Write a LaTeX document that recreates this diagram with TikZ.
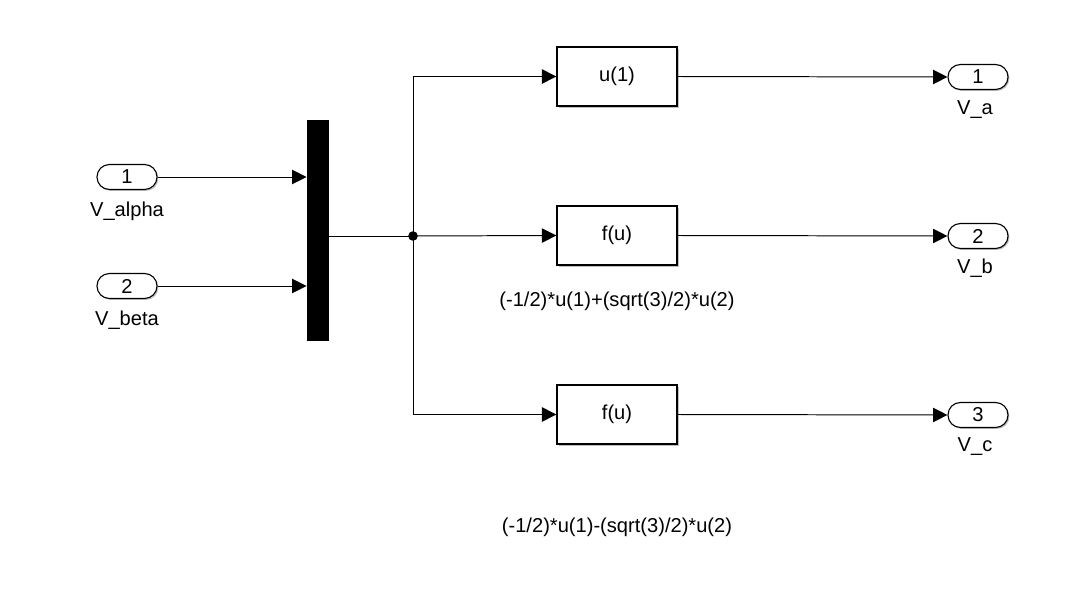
\documentclass[tikz,border=0pt]{standalone}
\usepackage{fontspec}
\setmainfont{Liberation Sans}
\usepackage{tikz}
\usetikzlibrary{arrows.meta, shadows}

\begin{document}
\begin{tikzpicture}[
        x=0.025cm, y=-0.025cm,
        line width=0.7pt,
        font=\fontsize{14.3}{17}\selectfont,
        % Styles for the Simulink blocks
        port/.style={
            rectangle, draw, fill=white, rounded corners=3.1mm,
            minimum width=1.5cm, minimum height=0.625cm, inner sep=0pt,
            line width=0.8pt,
            drop shadow={shadow xshift=1pt, shadow yshift=-1pt, fill=black, opacity=0.25}
        },
        fcn/.style={
            rectangle, draw, fill=white,
            minimum width=3cm, minimum height=1.475cm, inner sep=0pt,
            line width=0.9pt,
            drop shadow={shadow xshift=1.5pt, shadow yshift=-1.5pt, fill=black, opacity=0.25}
        },
        mux/.style={
            rectangle, fill=black, draw=black,
            minimum width=0.525cm, minimum height=5.475cm, inner sep=0pt
        },
        sig/.style={-{Triangle[length=3.6mm, width=3.6mm]}}
    ]

    \useasboundingbox (0,0) rectangle (1088,604);

    % 1. INPORTS
    \node[port] (in1) at (127,177) {1};
    \node[port] (in2) at (127,286) {2};
    \node (lblin1) at (127,211) {V\_alpha};
    \node (lblin2) at (127,320) {V\_beta};

    % 2. MUX AND BRANCH POINT
    \node[mux] (mux) at (317.5,230.5) {};
    \coordinate (split) at (413,236);

    \draw[sig] (in1.east) -- (in1.east -| mux.west);
    \draw[sig] (in2.east) -- (in2.east -| mux.west);
    \draw (mux.east |- split) -- (split);
    \fill (split) circle (0.12cm);

    % 3. FCN BLOCKS
    \node[fcn] (fa) at (617,76.5) {u(1)};
    \node[fcn] (fb) at (617,235.5) {f(u)};
    \node[fcn] (fc) at (617,414.5) {f(u)};
    \node (exprb) at (617,301) {(-1/2)*u(1)+(sqrt(3)/2)*u(2)};
    \node (exprc) at (617,527) {(-1/2)*u(1)-(sqrt(3)/2)*u(2)};

    \draw[sig] (split) |- (fa.west);
    \draw[sig] (split) -- (fb.west);
    \draw[sig] (split) |- (fc.west);

    % 4. OUTPORTS
    \node[port] (out1) at (978,77) {1};
    \node[port] (out2) at (978,236) {2};
    \node[port] (out3) at (978,415) {3};
    \node (lblout1) at (975,110) {V\_a};
    \node (lblout2) at (975,268) {V\_b};
    \node (lblout3) at (975,447) {V\_c};

    \draw[sig] (fa.east) -- (out1.west);
    \draw[sig] (fb.east) -- (out2.west);
    \draw[sig] (fc.east) -- (out3.west);

\end{tikzpicture}
\end{document}
